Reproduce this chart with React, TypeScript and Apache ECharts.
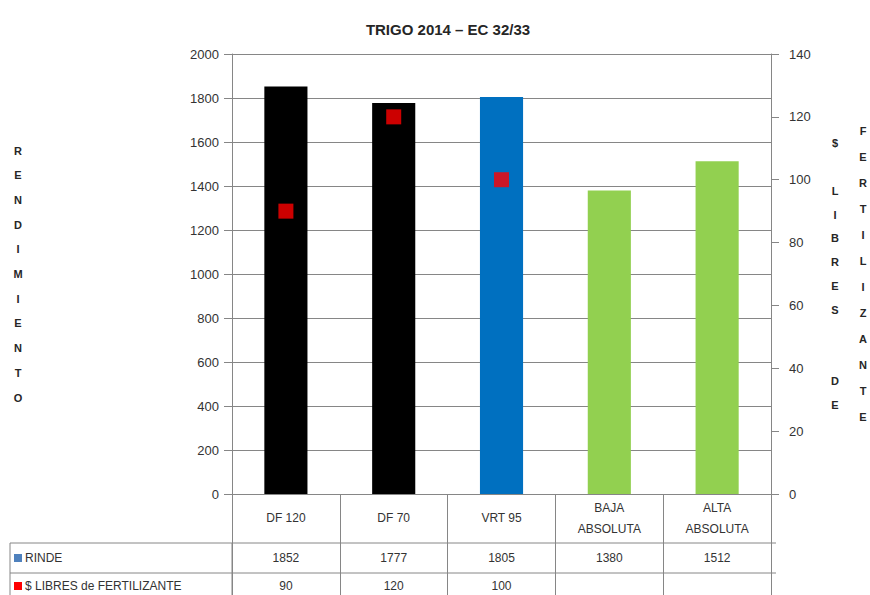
import React, { useEffect, useRef } from "react";
import * as echarts from "echarts";

const TITLE = "TRIGO 2014 – EC 32/33";
const CATEGORIES = ["DF 120", "DF 70", "VRT 95", "BAJA\nABSOLUTA", "ALTA\nABSOLUTA"];
const RINDE = [1852, 1777, 1805, 1380, 1512];
const LIBRES: (number | null)[] = [90, 120, 100, null, null];
const BAR_COLORS = ["#000000", "#000000", "#0070C0", "#92D050", "#92D050"];
const LEFT_NAME = "RENDIMIENTO";
const RIGHT_NAME_1 = "$ LIBRES  DE";
const RIGHT_NAME_2 = "FERTILIZANTE";
const ROW_LABELS = ["RINDE", "$ LIBRES de FERTILIZANTE"];
const ROW_COLORS = ["#4F81BD", "#FF0000"];

const W = 870;
const H = 595;
const GL = 232;
const GR = 776;
const GT = 54;
const GB = 494;
const ROW1 = 543;
const ROW2 = 573;
const FONT = "Liberation Sans";
const GRAY = "#868686";
const TXT = "#333333";

const vertical = (s: string) => s.split("").join("\n");

export default function App() {
  const ref = useRef<HTMLDivElement>(null);
  useEffect(() => {
    const chart = echarts.init(ref.current!, null, { renderer: "svg" });
    const rowAxis = (margin: number, values: (number | null)[]) => ({
      type: "category",
      data: CATEGORIES,
      position: "bottom",
      gridIndex: 0,
      axisLine: { show: false },
      axisTick: { show: false },
      splitLine: { show: false },
      axisLabel: {
        interval: 0,
        margin,
        verticalAlign: "middle",
        fontSize: 12,
        fontFamily: FONT,
        color: TXT,
        formatter: (_v: string, i: number) => (values[i] == null ? "" : String(values[i])),
      },
    });
    const nameStyle = (lineHeight: number) => ({
      fontSize: 11,
      fontWeight: "bold",
      color: "#262626",
      lineHeight,
      align: "center",
      verticalAlign: "middle",
      fontFamily: FONT,
    });
    chart.setOption({
      animation: false,
      backgroundColor: "#ffffff",
      textStyle: { fontFamily: FONT },
      title: {
        text: TITLE,
        left: 443,
        top: 17,
        textAlign: "center",
        textStyle: { fontSize: 15, fontWeight: "bold", color: "#262626", fontFamily: FONT },
      },
      grid: { left: GL, right: W - GR, top: GT, bottom: H - GB },
      xAxis: [
        {
          type: "category",
          data: CATEGORIES,
          position: "bottom",
          axisLine: { show: true, lineStyle: { color: GRAY, width: 1 } },
          axisTick: { show: true, length: H - GB, lineStyle: { color: GRAY } },
          splitLine: { show: false },
          axisLabel: {
            interval: 0,
            margin: 24,
            verticalAlign: "middle",
            fontSize: 12,
            lineHeight: 21,
            fontFamily: FONT,
            color: TXT,
          },
        },
        rowAxis(ROW1 - GB + (ROW2 - ROW1) / 2, RINDE),
        rowAxis(ROW2 - GB + 13, LIBRES),
      ],
      yAxis: [
        {
          type: "value",
          min: 0,
          max: 2000,
          interval: 200,
          position: "left",
          axisLine: { show: true, lineStyle: { color: GRAY } },
          axisTick: { show: true, length: 8, lineStyle: { color: GRAY } },
          splitLine: { show: true, lineStyle: { color: GRAY, width: 1 } },
          axisLabel: { margin: 13, fontSize: 13, color: TXT, fontFamily: FONT, formatter: (v: number) => String(v) },
          name: vertical(LEFT_NAME),
          nameLocation: "middle",
          nameGap: GL - 18,
          nameRotate: 0,
          nameTextStyle: nameStyle(24.7),
        },
        {
          type: "value",
          min: 0,
          max: 140,
          interval: 20,
          position: "right",
          axisLine: { show: true, lineStyle: { color: GRAY } },
          axisTick: { show: true, length: 8, lineStyle: { color: GRAY } },
          splitLine: { show: false },
          axisLabel: { margin: 18, fontSize: 13, color: TXT, fontFamily: FONT, formatter: (v: number) => String(v) },
          name: vertical(RIGHT_NAME_1),
          nameLocation: "middle",
          nameGap: 64,
          nameRotate: 0,
          nameTextStyle: nameStyle(23.8),
        },
        {
          type: "value",
          min: 0,
          max: 140,
          interval: 20,
          position: "right",
          axisLine: { show: false },
          axisTick: { show: false },
          axisLabel: { show: false },
          splitLine: { show: false },
          name: vertical(RIGHT_NAME_2),
          nameLocation: "middle",
          nameGap: 92,
          nameRotate: 0,
          nameTextStyle: nameStyle(26),
        },
      ],
      series: [
        {
          name: "RINDE",
          type: "bar",
          xAxisIndex: 0,
          yAxisIndex: 0,
          barWidth: "40%",
          data: RINDE.map((v, i) => ({ value: v, itemStyle: { color: BAR_COLORS[i] } })),
        },
        {
          name: "$ LIBRES de FERTILIZANTE",
          type: "scatter",
          xAxisIndex: 0,
          yAxisIndex: 1,
          symbol: "rect",
          symbolSize: 15,
          itemStyle: { color: "#FF0000" },
          data: LIBRES.map((v) => (v == null ? "-" : v)),
          z: 5,
        },
      ],
      graphic: [
        { type: "line", shape: { x1: 10, y1: ROW1, x2: GR, y2: ROW1 }, style: { stroke: GRAY, lineWidth: 1 } },
        { type: "line", shape: { x1: 10, y1: ROW2, x2: GR, y2: ROW2 }, style: { stroke: GRAY, lineWidth: 1 } },
        { type: "line", shape: { x1: 10, y1: ROW1, x2: 10, y2: H }, style: { stroke: GRAY, lineWidth: 1 } },
        { type: "line", shape: { x1: GL, y1: ROW1, x2: GL, y2: H }, style: { stroke: GRAY, lineWidth: 1 } },
        { type: "rect", shape: { x: 14, y: (ROW1 + ROW2) / 2 - 4, width: 8, height: 8 }, style: { fill: ROW_COLORS[0] } },
        {
          type: "text",
          x: 25,
          y: (ROW1 + ROW2) / 2,
          style: { text: ROW_LABELS[0], fontSize: 12, fill: TXT, fontFamily: FONT, verticalAlign: "middle" },
        },
        { type: "rect", shape: { x: 14, y: ROW2 + 9, width: 8, height: 8 }, style: { fill: ROW_COLORS[1] } },
        {
          type: "text",
          x: 25,
          y: ROW2 + 13,
          style: { text: ROW_LABELS[1], fontSize: 12, fill: TXT, fontFamily: FONT, verticalAlign: "middle" },
        },
      ],
    });
    return () => chart.dispose();
  }, []);
  return <div ref={ref} style={{ position: "fixed", left: 0, top: 0, width: W, height: H }} />;
}
